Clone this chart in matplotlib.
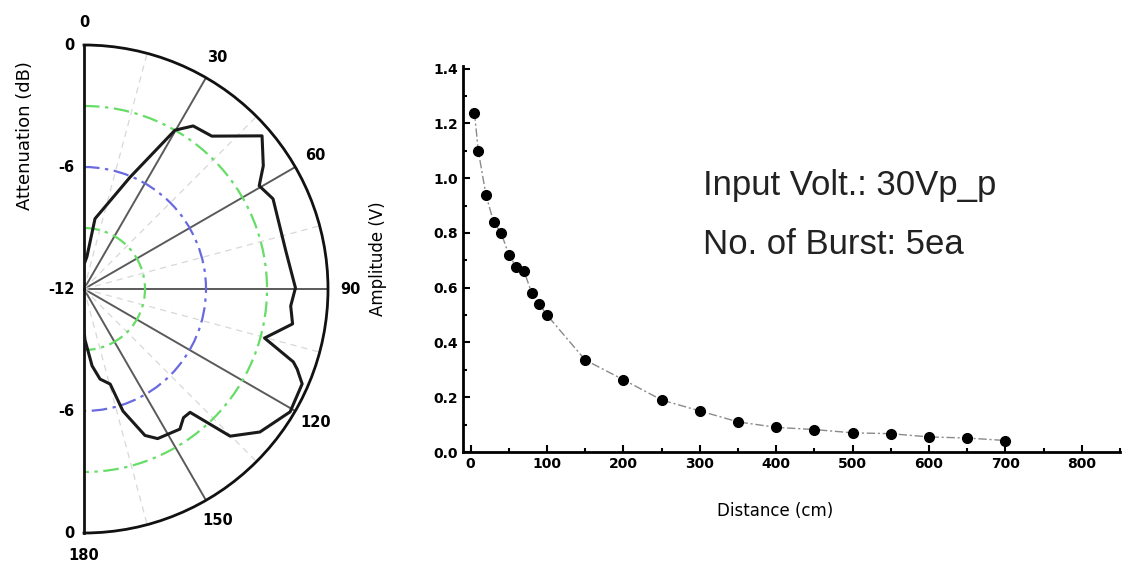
import numpy as np
import matplotlib
matplotlib.use("Agg")
import matplotlib.pyplot as plt
from matplotlib.ticker import MultipleLocator

# ---------------- data ----------------
# polar beam pattern (angle in degrees, attenuation in dB)
theta_deg = [0, 5.2, 8.9, 22.4, 29.8, 33.8, 39.9, 49.3, 55.5, 59.5, 64.5, 79.3,
             89.7, 94.7, 99.5, 105.2, 109.2, 110.6, 113.5, 120.8, 129.1, 135.2,
             139.3, 142.3, 145.6, 153.8, 157.4, 162.3, 164.6, 169.9, 174.0,
             178.9, 180]
atten_db = [-10.8, -10.4, -8.5, -6.05, -3.0, -2.35, -2.2, -0.45, -1.3, -2.0,
            -1.7, -1.9, -1.6, -1.8, -1.6, -2.8, -1.1, -0.8, -0.3, -0.2, -0.85,
            -1.8, -4.0, -4.0, -3.65, -3.8, -4.2, -5.7, -7.15, -7.5, -8.2, -9.5,
            -10.0]
theta_major = [0, 30, 60, 90, 120, 150, 180]
theta_minor = [15, 45, 75, 105, 135, 165]
ring_levels = [-9, -6, -3]
ring_colors = ['#66dd66', '#6a6ae0', '#66dd66']
r_label_theta = [0, 0, 0, 180, 180]
r_label_r = [0, -6, -12, -6, 0]
r_label_txt = ['0', '-6', '-12', '-6', '0']

# amplitude vs distance
dist = [5, 10, 20, 30, 40, 50, 60, 70, 80, 90, 100, 150, 200, 250, 300, 350,
        400, 450, 500, 550, 600, 650, 700]
amp = [1.24, 1.10, 0.94, 0.84, 0.80, 0.72, 0.675, 0.66, 0.58, 0.54, 0.50,
       0.336, 0.264, 0.19, 0.15, 0.11, 0.09, 0.082, 0.07, 0.067, 0.055,
       0.051, 0.042]
x_ticks = [0, 100, 200, 300, 400, 500, 600, 700, 800]
y_ticks = [0.0, 0.2, 0.4, 0.6, 0.8, 1.0, 1.2, 1.4]
annot_lines = ["Input Volt.: 30Vp_p", "No. of Burst: 5ea"]

W, H = 1131, 571
fig = plt.figure(figsize=(W / 100, H / 100), dpi=100)

# ---------------- polar panel ----------------
# matplotlib pads a half wedge to a square box and centres it there,
# so the axes box is 2R x 2R with the pole at its left quarter
cx, cy, R = 84, 289, 244
axp = fig.add_axes([(cx - R / 2) / W, (H - cy - R) / H, 2 * R / W, 2 * R / H],
                   projection='polar')
axp.set_theta_zero_location('N')
axp.set_theta_direction(-1)
axp.set_thetamin(0)
axp.set_thetamax(180)
axp.set_ylim(-12, 0)

axp.set_xticks(np.deg2rad(theta_major))
axp.set_xticklabels([str(t) for t in theta_major], fontsize=10.5, fontweight='bold')
axp.set_xticks(np.deg2rad(theta_minor), minor=True)
axp.tick_params(axis='x', pad=6)
axp.xaxis.grid(True, which='major', color='#5a5a5a', lw=1.4, ls='-')
axp.xaxis.grid(True, which='minor', color='#d8d8d8', lw=0.9, ls=(0, (5, 4)))

axp.set_yticks(ring_levels)
axp.set_yticklabels([])
axp.yaxis.grid(True)

for sp in ['polar', 'start', 'end']:
    axp.spines[sp].set_linewidth(2.0)
    axp.spines[sp].set_color('#111111')

axp.plot(np.deg2rad(theta_deg), atten_db, color='#1a1a1a', lw=2.2, zorder=5)

for th, r, t in zip(r_label_theta, r_label_r, r_label_txt):
    axp.annotate(t, xy=(np.deg2rad(th), r), xytext=(-7, 0),
                 textcoords='offset points', ha='right', va='center',
                 fontsize=10.5, fontweight='bold', annotation_clip=False)

fig.text(25 / W, 1 - 136 / H, 'Attenuation (dB)', rotation=90,
         ha='center', va='center', fontsize=13)

# ---------------- amplitude panel ----------------
left, right, bottom, top = 463, 1120, 452, 66
ax = fig.add_axes([left / W, 1 - bottom / H, (right - left) / W, (bottom - top) / H])
ax.plot(dist, amp, color='#8a8a8a', lw=1.0, ls=(0, (6, 2, 1.5, 2)), zorder=1)
ax.plot(dist, amp, 'o', color='black', ms=7, zorder=3)
ax.set_xlim(-10, 850)
ax.set_ylim(0, 1.41)
ax.set_xticks(x_ticks)
ax.set_yticks(y_ticks)
ax.set_yticklabels([f"{v:.1f}" for v in y_ticks])
ax.xaxis.set_minor_locator(MultipleLocator(50))
ax.yaxis.set_minor_locator(MultipleLocator(0.1))
ax.tick_params(which='major', direction='in', length=5, width=1.5,
               labelsize=10)
ax.tick_params(which='minor', direction='in', length=3, width=1.5)
for lab in ax.get_xticklabels() + ax.get_yticklabels():
    lab.set_fontweight('bold')
for sp in ['top', 'right']:
    ax.spines[sp].set_visible(False)
for sp in ['left', 'bottom']:
    ax.spines[sp].set_linewidth(2.0)
ax.set_ylabel('Amplitude (V)', fontsize=12)
ax.set_xlabel('Distance (cm)', fontsize=12)
ax.yaxis.set_label_coords((387 - left) / (right - left), 0.50)
ax.xaxis.set_label_coords((775 - left) / (right - left),
                          (bottom - 502) / (bottom - top))

for i, line in enumerate(annot_lines):
    fig.text(703 / W, 1 - (185 + 60 * i) / H, line, ha='left', va='center',
             fontsize=25, family='Liberation Sans', color='#222222')

# colour the radial rings after the ticks exist
fig.canvas.draw()
for gl, c in zip(axp.yaxis.get_gridlines(), ring_colors):
    gl.set_color(c)
    gl.set_linewidth(1.6)
    gl.set_linestyle((0, (7, 2.5, 1.5, 2.5)))

fig.savefig('out.png', dpi=100)
